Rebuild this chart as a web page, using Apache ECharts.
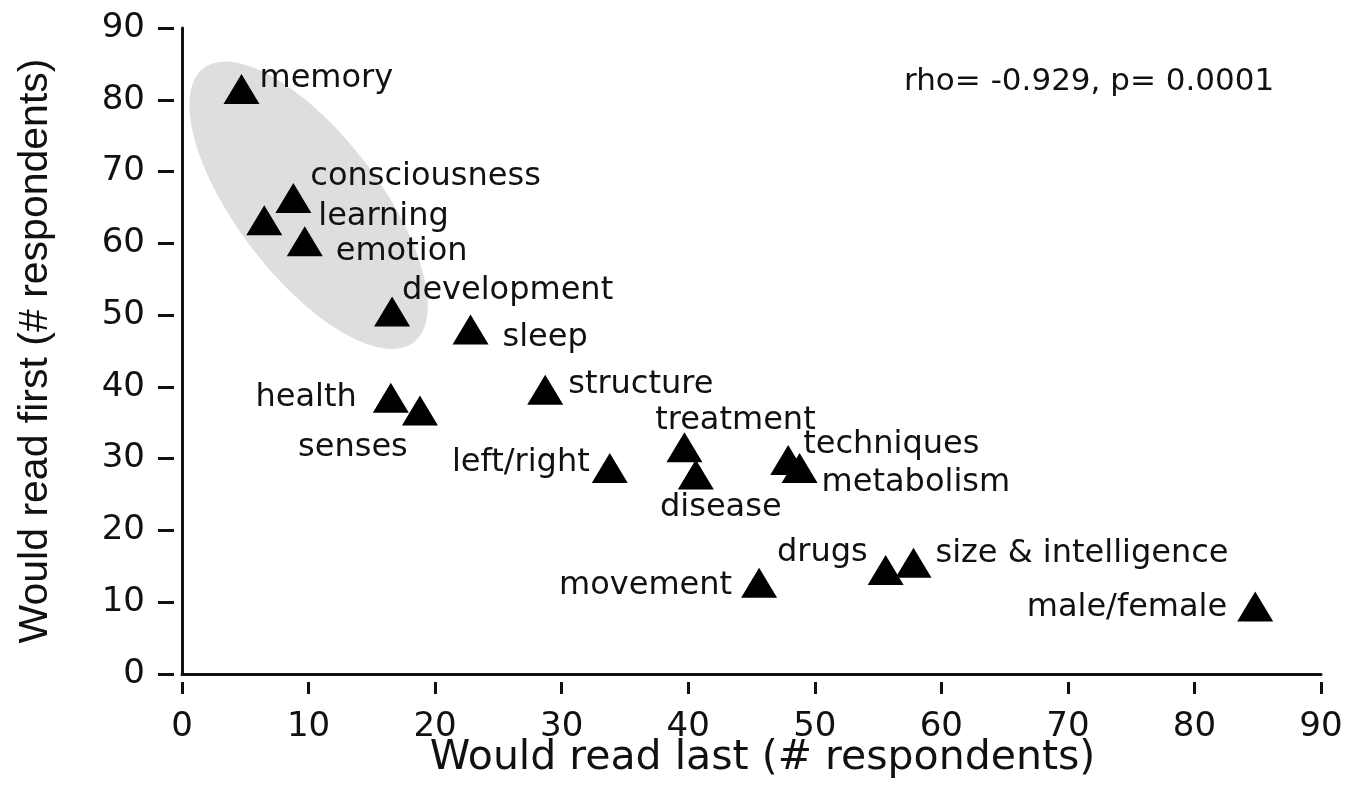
<!DOCTYPE html>
<html>
<head>
<meta charset="utf-8">
<title>Would read first vs would read last</title>
<script src="https://cdn.jsdelivr.net/npm/echarts@6/dist/echarts.min.js"></script>
<style>
  html, body { margin: 0; padding: 0; background: #fff; }
  #chart { width: 1346px; height: 802px; }
</style>
</head>
<body>
<div id="chart"></div>
<script>
  // data
  const topics = ['memory', 'consciousness', 'learning', 'emotion', 'development', 'sleep',
    'health', 'senses', 'structure', 'left/right', 'treatment', 'disease',
    'techniques', 'metabolism', 'movement', 'drugs', 'size & intelligence', 'male/female'];
  const readLast = [4.7, 8.8, 6.5, 9.7, 16.6, 22.8, 16.5, 18.8, 28.7, 33.8, 39.7, 40.6,
    47.9, 48.8, 45.6, 55.6, 57.8, 84.8];
  const readFirst = [81.5, 66.3, 63.2, 60.3, 50.5, 48.0, 38.5, 36.7, 39.6, 28.7, 31.6, 27.8,
    29.8, 28.7, 12.7, 14.5, 15.5, 9.4];
  const tickValues = [0, 10, 20, 30, 40, 50, 60, 70, 80, 90];
  const statText = 'rho= -0.929, p= 0.0001';
  const xTitle = 'Would read last (# respondents)';
  const yTitle = 'Would read first (# respondents)';

  // where each label sits next to its triangle: [align, dx, dy] in px
  const labelPlace = {
    'memory': ['left', 18, -10],
    'consciousness': ['left', 17, -21],
    'learning': ['left', 54, -4],
    'emotion': ['left', 31, 11],
    'development': ['left', 10, -21],
    'sleep': ['left', 32, 8],
    'health': ['right', -34, 0],
    'senses': ['center', -67, 37],
    'structure': ['left', 23, -5],
    'left/right': ['right', -20, -5],
    'treatment': ['center', 51, -26],
    'disease': ['center', 25, 33],
    'techniques': ['left', 15, -15],
    'metabolism': ['left', 22, 15],
    'movement': ['right', -27, 3],
    'drugs': ['right', -18, -17],
    'size & intelligence': ['left', 22, -9],
    'male/female': ['right', -28, 1]
  };

  // grey cluster: ends of the long axis (data units), half width in px
  const clusterAxis = [[1.7, 84.4], [18.3, 46.2]];
  const clusterHalfWidth = 71;

  const tickMin = tickValues[0];
  const tickMax = tickValues[tickValues.length - 1];
  const tickStep = tickValues[1] - tickValues[0];
  const ink = '#111';
  const font = 'DejaVu Sans';
  const gap = 8; // ticks stand off the axis lines by this much

  const points = topics.map(function (name, i) {
    const p = labelPlace[name];
    return {
      name: name,
      value: [readLast[i], readFirst[i]],
      label: { align: p[0], offset: [p[1], p[2]] }
    };
  });

  function axis(extra) {
    return Object.assign({
      type: 'value',
      min: tickMin,
      max: tickMax,
      interval: tickStep,
      axisLine: { show: false, onZero: false },
      axisTick: { show: false },
      axisLabel: { show: false },
      splitLine: { show: false }
    }, extra);
  }

  const lineStyle = { color: ink, width: 3 };

  const chart = echarts.init(document.getElementById('chart'));
  chart.setOption({
    animation: false,
    backgroundColor: '#fff',
    title: {
      text: statText,
      left: 899,
      top: 61,
      textStyle: { fontFamily: font, fontSize: 31, fontWeight: 'normal', color: ink }
    },
    // grid 0: plot + axis lines; grid 1: x ticks shifted down; grid 2: y ticks shifted left
    grid: [
      { left: 182, right: 25, top: 28, bottom: 128 },
      { left: 182, right: 25, top: 28 + gap, bottom: 128 - gap },
      { left: 182 - gap, right: 25 + gap, top: 28, bottom: 128 }
    ],
    xAxis: [
      axis({
        gridIndex: 0,
        position: 'bottom',
        axisLine: { show: true, onZero: false, lineStyle: lineStyle },
        name: xTitle,
        nameLocation: 'middle',
        nameGap: 64,
        nameTextStyle: { fontFamily: font, fontSize: 41, color: ink, padding: [0, 0, 0, 22] }
      }),
      axis({
        gridIndex: 1,
        position: 'bottom',
        axisTick: { show: true, length: 12, lineStyle: lineStyle },
        axisLabel: { show: true, margin: 28, fontFamily: font, fontSize: 34, color: ink }
      }),
      axis({ gridIndex: 2, show: false })
    ],
    yAxis: [
      axis({
        gridIndex: 0,
        position: 'left',
        axisLine: { show: true, onZero: false, lineStyle: lineStyle },
        name: yTitle,
        nameLocation: 'middle',
        nameGap: 126,
        nameTextStyle: { fontFamily: 'Liberation Sans', fontSize: 41, color: ink }
      }),
      axis({ gridIndex: 1, show: false }),
      axis({
        gridIndex: 2,
        position: 'left',
        axisTick: { show: true, length: 16, lineStyle: lineStyle },
        axisLabel: { show: true, margin: 29, fontFamily: font, fontSize: 34, color: ink }
      })
    ],
    series: [
      {
        type: 'custom',
        silent: true,
        z: 1,
        xAxisIndex: 0,
        yAxisIndex: 0,
        data: [clusterAxis[0]],
        renderItem: function (params, api) {
          const p1 = api.coord(clusterAxis[0]);
          const p2 = api.coord(clusterAxis[1]);
          const cx = (p1[0] + p2[0]) / 2;
          const cy = (p1[1] + p2[1]) / 2;
          const a = Math.hypot(p2[0] - p1[0], p2[1] - p1[1]) / 2;
          const b = clusterHalfWidth;
          const ang = Math.atan2(p2[1] - p1[1], p2[0] - p1[0]);
          const pts = [];
          for (let i = 0; i < 120; i++) {
            const t = i / 120 * Math.PI * 2;
            const ex = a * Math.cos(t);
            const ey = b * Math.sin(t);
            pts.push([
              cx + ex * Math.cos(ang) - ey * Math.sin(ang),
              cy + ex * Math.sin(ang) + ey * Math.cos(ang)
            ]);
          }
          return { type: 'polygon', shape: { points: pts }, style: { fill: '#dedede' } };
        }
      },
      {
        type: 'scatter',
        z: 3,
        xAxisIndex: 0,
        yAxisIndex: 0,
        symbol: 'triangle',
        symbolSize: [36, 30],
        itemStyle: { color: '#000', opacity: 1 },
        label: {
          show: true,
          position: 'inside',
          verticalAlign: 'middle',
          formatter: '{b}',
          fontFamily: font,
          fontSize: 32,
          color: ink
        },
        emphasis: { disabled: true },
        data: points
      }
    ]
  });
</script>
</body>
</html>
